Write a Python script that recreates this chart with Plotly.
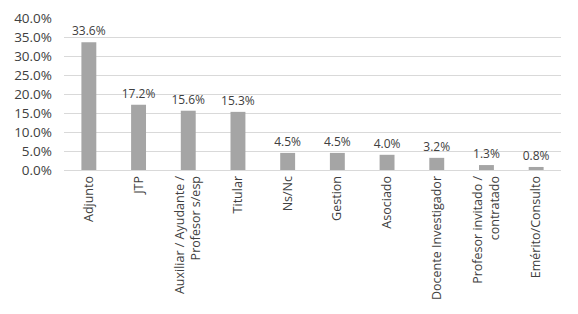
import plotly.graph_objects as go

categories = ["Adjunto", "JTP", "Auxiliar / Ayudante /<br>Profesor s/esp", "Titular", "Ns/Nc",
              "Gestion", "Asociado", "Docente Investigador", "Profesor invitado /<br>contratado",
              "Emérito/Consulto"]
values = [33.6, 17.2, 15.6, 15.3, 4.5, 4.5, 4.0, 3.2, 1.3, 0.8]
labels = [f"{v:.1f}%" for v in values]

font = "Open Sans, Noto Sans, sans-serif"
fig = go.Figure(go.Bar(
    x=categories, y=values, text=labels, textposition="outside",
    textfont=dict(family=font, size=12, color="#404040"),
    constraintext="none",
    marker=dict(color="#a5a5a5", line=dict(width=0)),
    cliponaxis=False,
))
fig.update_layout(
    width=578, height=314,
    margin=dict(l=64, r=17, t=18, b=144),
    paper_bgcolor="white", plot_bgcolor="white",
    bargap=0.7, showlegend=False,
    font=dict(family=font, size=13, color="#404040"),
)
fig.update_yaxes(range=[0, 40], dtick=5, tickformat=".1f", ticksuffix="%",
                 showgrid=True, gridcolor="#d9d9d9", gridwidth=1, zeroline=False,
                 tickfont=dict(size=13.5, color="#404040"), ticks="", showline=False,
                 automargin=False, ticklabelstandoff=11)
fig.update_xaxes(tickangle=-90, showline=True, linecolor="#d9d9d9", linewidth=1,
                 tickfont=dict(size=12.5, color="#404040"), ticks="", automargin=False)
fig.write_html("out.html", config={"displayModeBar": False},
               post_script="document.body.style.margin='0';document.body.style.overflow='hidden';")
